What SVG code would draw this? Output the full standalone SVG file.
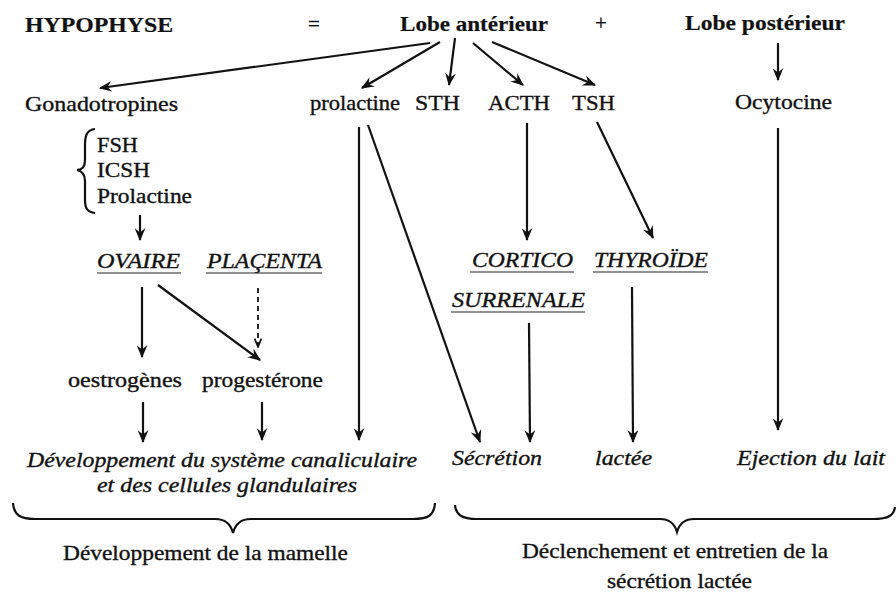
<svg xmlns="http://www.w3.org/2000/svg" width="896" height="603" viewBox="0 0 896 603">
<defs>
<style>
text{font-family:"Liberation Serif","Times New Roman",serif;fill:#111;font-size:21px;stroke:#111;stroke-width:0.35}
.b{font-weight:bold;font-size:22px;stroke-width:0.2}
.i{font-style:italic}
.c line,.c path{stroke:#111;stroke-width:2.2;fill:none}
.c .d{stroke-dasharray:5 4;stroke-width:1.8}
.u{stroke:#222;stroke-width:1.2}
.br{stroke:#111;stroke-width:2.2;fill:none}
</style>
<marker id="a" viewBox="0 0 12 10" refX="11" refY="5" markerWidth="13" markerHeight="11" markerUnits="userSpaceOnUse" orient="auto">
<path d="M0,0 L12,5 L0,10 L4,5 Z" fill="#111"/>
</marker>
<marker id="o" viewBox="0 0 12 10" refX="11" refY="5" markerWidth="10" markerHeight="9" markerUnits="userSpaceOnUse" orient="auto">
<path d="M1,1 L11,5 L1,9" fill="none" stroke="#111" stroke-width="2"/>
</marker>
</defs>
<rect width="896" height="603" fill="#fff"/>

<g id="hypophyse"><text class="b" x="25" y="32" textLength="148" lengthAdjust="spacingAndGlyphs">HYPOPHYSE</text></g>
<g id="eq"><text x="308" y="31">=</text></g>
<g id="lobe-ant"><text class="b" x="400" y="31" textLength="148" lengthAdjust="spacingAndGlyphs">Lobe antérieur</text></g>
<g id="plus"><text x="595" y="30">+</text></g>
<g id="lobe-post"><text class="b" x="685" y="30" textLength="160" lengthAdjust="spacingAndGlyphs">Lobe postérieur</text></g>

<g id="gonado"><text x="25" y="111" textLength="153" lengthAdjust="spacingAndGlyphs">Gonadotropines</text></g>
<g id="prolactine"><text x="310" y="110" textLength="90" lengthAdjust="spacingAndGlyphs">prolactine</text></g>
<g id="sth"><text x="415" y="110" textLength="45" lengthAdjust="spacingAndGlyphs">STH</text></g>
<g id="acth"><text x="488" y="110" textLength="62" lengthAdjust="spacingAndGlyphs">ACTH</text></g>
<g id="tsh"><text x="572" y="110" textLength="43" lengthAdjust="spacingAndGlyphs">TSH</text></g>
<g id="ocytocine"><text x="735" y="109" textLength="97" lengthAdjust="spacingAndGlyphs">Ocytocine</text></g>

<g id="gonado-list">
<path class="br" d="M95,129 C87,130 85,135 85,145 L85,160 C85,167 82,170 77,170 C82,171 85,174 85,181 L85,200 C85,208 87,212 95,213"/>
<text x="97" y="152" textLength="41" lengthAdjust="spacingAndGlyphs">FSH</text>
<text x="97" y="177" textLength="53" lengthAdjust="spacingAndGlyphs">ICSH</text>
<text x="97" y="203" textLength="95" lengthAdjust="spacingAndGlyphs">Prolactine</text>
</g>

<g id="ovaire"><text class="i" x="97" y="268" textLength="83" lengthAdjust="spacingAndGlyphs">OVAIRE</text><line class="u" x1="97" y1="273" x2="181" y2="273"/></g>
<g id="placenta"><text class="i" x="207" y="268" textLength="115" lengthAdjust="spacingAndGlyphs">PLAÇENTA</text><line class="u" x1="206" y1="273" x2="322" y2="273"/></g>
<g id="cortico"><text class="i" x="472" y="267" textLength="101" lengthAdjust="spacingAndGlyphs">CORTICO</text><line class="u" x1="470" y1="272" x2="574" y2="272"/></g>
<g id="thyroide"><text class="i" x="594" y="267" textLength="114" lengthAdjust="spacingAndGlyphs">THYROÏDE</text><line class="u" x1="593" y1="272" x2="708" y2="272"/></g>
<g id="surrenale"><text class="i" x="452" y="307" textLength="133" lengthAdjust="spacingAndGlyphs">SURRENALE</text><line class="u" x1="451" y1="312" x2="585" y2="312"/></g>

<g id="oestrogenes"><text x="68" y="387" textLength="114" lengthAdjust="spacingAndGlyphs">oestrogènes</text></g>
<g id="progesterone"><text x="202" y="387" textLength="121" lengthAdjust="spacingAndGlyphs">progestérone</text></g>

<g id="developpement">
<text class="i" x="27" y="467" textLength="390" lengthAdjust="spacingAndGlyphs">Développement du système canaliculaire</text>
<text class="i" x="97" y="492" textLength="260" lengthAdjust="spacingAndGlyphs">et des cellules glandulaires</text>
</g>
<g id="secretion"><text class="i" x="452" y="465" textLength="90" lengthAdjust="spacingAndGlyphs">Sécrétion</text></g>
<g id="lactee"><text class="i" x="595" y="465" textLength="57" lengthAdjust="spacingAndGlyphs">lactée</text></g>
<g id="ejection"><text class="i" x="737" y="465" textLength="148" lengthAdjust="spacingAndGlyphs">Ejection du lait</text></g>

<g id="brace-left">
<path class="br" d="M13,503 C14,515 20,519 35,519 L215,519 C226,519 231,525 233,533 C235,525 240,519 251,519 L413,519 C429,519 434,515 435,503"/>
<text x="63" y="560" textLength="285" lengthAdjust="spacingAndGlyphs">Développement de la mamelle</text>
</g>
<g id="brace-right">
<path class="br" d="M455,505 C456,515 462,519 477,519 L660,519 C670,519 675,525 677,532 C679,525 684,519 694,519 L873,519 C889,519 894,515 895,507"/>
<text x="522" y="558" textLength="306" lengthAdjust="spacingAndGlyphs">Déclenchement et entretien de la</text>
<text x="607" y="588" textLength="145" lengthAdjust="spacingAndGlyphs">sécrétion lactée</text>
</g>

<g id="connectors" class="c">
<line x1="430" y1="43" x2="100" y2="88" marker-end="url(#a)"/>
<line x1="440" y1="42" x2="362" y2="88" marker-end="url(#a)"/>
<line x1="455" y1="38" x2="449" y2="85" marker-end="url(#a)"/>
<line x1="473" y1="43" x2="523" y2="85" marker-end="url(#a)"/>
<line x1="492" y1="42" x2="595" y2="85" marker-end="url(#a)"/>
<line x1="778" y1="43" x2="778" y2="80" marker-end="url(#a)"/>
<line x1="140" y1="215" x2="140" y2="240" marker-end="url(#a)"/>
<line x1="359" y1="127" x2="359" y2="440" marker-end="url(#a)"/>
<line x1="368" y1="125" x2="480" y2="442" marker-end="url(#a)"/>
<line x1="527" y1="123" x2="527" y2="240" marker-end="url(#a)"/>
<line x1="597" y1="122" x2="653" y2="238" marker-end="url(#a)"/>
<line x1="778" y1="128" x2="778" y2="430" marker-end="url(#a)"/>
<line x1="142" y1="287" x2="142" y2="357" marker-end="url(#a)"/>
<line x1="158" y1="285" x2="260" y2="360" marker-end="url(#a)"/>
<line class="d" x1="258" y1="288" x2="258" y2="347" marker-end="url(#o)"/>
<line x1="143" y1="402" x2="143" y2="442" marker-end="url(#a)"/>
<line x1="262" y1="402" x2="262" y2="440" marker-end="url(#a)"/>
<line x1="529" y1="323" x2="530" y2="442" marker-end="url(#a)"/>
<line x1="632" y1="287" x2="633" y2="442" marker-end="url(#a)"/>
</g>
</svg>
